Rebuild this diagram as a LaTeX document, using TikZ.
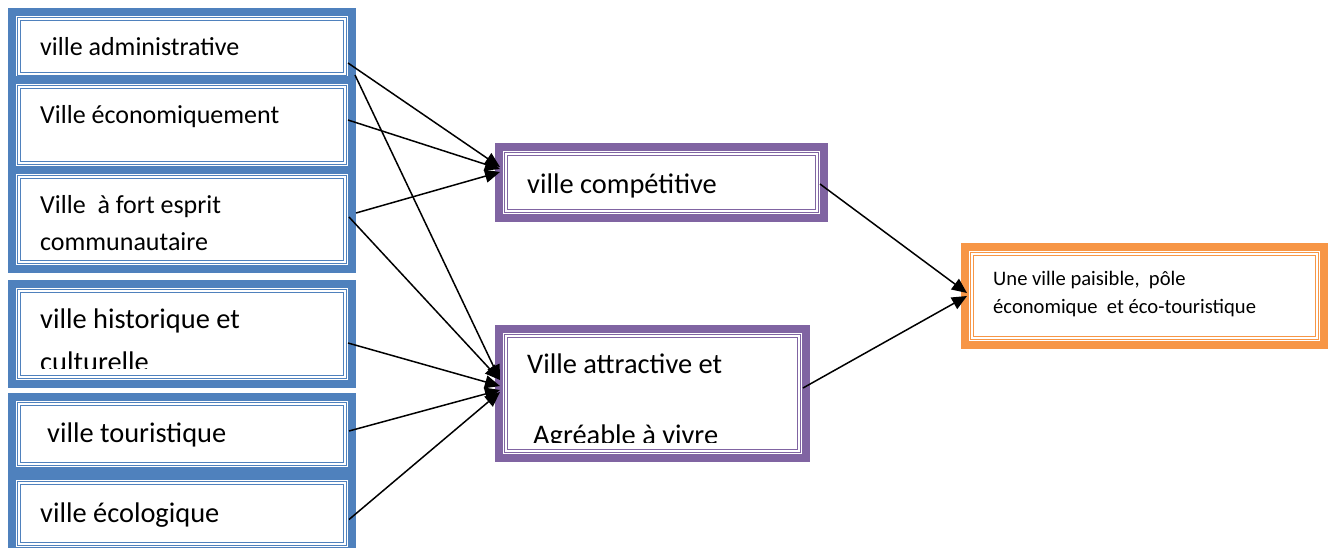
\documentclass[tikz,border=0pt]{standalone}
\usepackage{fontspec}
\setmainfont{Carlito}
\usetikzlibrary{arrows.meta}
\definecolor{cadrebleu}{HTML}{4F81BD}
\definecolor{cadreviolet}{HTML}{8064A2}
\definecolor{cadreorange}{HTML}{F79646}
\def\filet[#1](#2)% Syntax: [colour] (node name)
    { \draw[#1, line width=1pt, double=white, double distance=1.2pt] ([shift={(7,7)}]#2.north west) rectangle ([shift={(-7,-7)}]#2.south east); }

\begin{document}
\begin{tikzpicture}[x=1pt, y=-1pt,
    cadre/.style={draw=#1, line width=8pt, fill=white, inner sep=0pt, outer sep=0pt},
    texte/.style={anchor=base west, inner sep=0pt, font=\fontsize{26}{31}\selectfont},
    grand/.style={font=\fontsize{28.4}{34}\selectfont},
    petit/.style={font=\fontsize{20.6}{25}\selectfont},
    fleche/.style={-{Triangle[length=15pt,width=13pt]}, line width=1.5pt}]
   \useasboundingbox (0,0) rectangle (1333,547);

   % colonne de gauche
   \node[cadre=cadrebleu, minimum width=340pt, minimum height=69pt] (admin) at (182,46.5) {};
   \filet[cadrebleu](admin)
   \node[texte] (admin-t) at (40,55) {ville administrative};

   \node[cadre=cadrebleu, minimum width=340pt, minimum height=90pt] (econ) at (182,125) {};
   \filet[cadrebleu](econ)
   \node[texte] (econ-t) at (40,123) {Ville économiquement};

   \node[cadre=cadrebleu, minimum width=340pt, minimum height=99pt] (esprit) at (182,219.5) {};
   \filet[cadrebleu](esprit)
   \node[texte] (esprit-t1) at (40,213) {Ville\ \ à fort esprit};
   \node[texte] (esprit-t2) at (40,250) {communautaire};

   \node[cadre=cadrebleu, minimum width=340pt, minimum height=100pt] (histo) at (182,334) {};
   \filet[cadrebleu](histo)
   \begin{scope}
     \clip (histo.north west) rectangle ([shift={(0,-16)}]histo.south east);
     \node[texte,grand] (histo-t1) at (40,328) {ville historique et};
     \node[texte,grand] (histo-t2) at (40,371) {culturelle};
   \end{scope}

   \node[cadre=cadrebleu, minimum width=340pt, minimum height=74pt] (touri) at (182,434) {};
   \filet[cadrebleu](touri)
   \node[texte,grand] (touri-t) at (47,442) {ville touristique};

   \node[cadre=cadrebleu, minimum width=340pt, minimum height=75pt] (ecolo) at (182,513.5) {};
   \filet[cadrebleu](ecolo)
   \node[texte,grand] (ecolo-t) at (40,522) {ville écologique};

   % colonne du milieu
   \node[cadre=cadreviolet, minimum width=325pt, minimum height=71pt] (compet) at (661.5,182.5) {};
   \filet[cadreviolet](compet)
   \node[texte,grand] (compet-t) at (527,193) {ville compétitive};

   \node[cadre=cadreviolet, minimum width=307pt, minimum height=129pt] (attract) at (652.5,393.5) {};
   \filet[cadreviolet](attract)
   \begin{scope}
     \clip (attract.north west) rectangle ([shift={(0,-16)}]attract.south east);
     \node[texte,grand] (attract-t1) at (527,373) {Ville attractive et};
     \node[texte,grand] (attract-t2) at (533,444) {Agréable à vivre};
   \end{scope}

   % but final
   \node[cadre=cadreorange, minimum width=359pt, minimum height=98pt] (paisible) at (1144.5,296) {};
   \filet[cadreorange](paisible)
   \node[texte,petit] (paisible-t1) at (993,285) {Une ville paisible,\ \ pôle};
   \node[texte,petit] (paisible-t2) at (993,313) {économique\ \ et éco-touristique};

   % fleches
   \draw[fleche] ([shift={(-4,16.5)}]admin.east) -- ([shift={(1,-15.5)}]compet.west);
   \draw[fleche] ([shift={(3,28.5)}]admin.east) -- ([shift={(1,-13.5)}]attract.west);
   \draw[fleche] ([shift={(-4,-5)}]econ.east) -- ([shift={(1,-13.5)}]compet.west);
   \draw[fleche] ([shift={(4,-6.5)}]esprit.east) -- ([shift={(1,-10.5)}]compet.west);
   \draw[fleche] ([shift={(-3,-2.5)}]esprit.east) -- ([shift={(1,-13.5)}]attract.west);
   \draw[fleche] ([shift={(-4,9)}]histo.east) -- ([shift={(1,-7.5)}]attract.west);
   \draw[fleche] ([shift={(-3,-3)}]touri.east) -- ([shift={(1,-3.5)}]attract.west);
   \draw[fleche] ([shift={(-3,6)}]ecolo.east) -- ([shift={(1,-1.5)}]attract.west);
   \draw[fleche] ([shift={(-4,1.5)}]compet.east) -- ([shift={(2,-3)}]paisible.west);
   \draw[fleche] ([shift={(-3,-5.5)}]attract.east) -- ([shift={(2,0)}]paisible.west);
\end{tikzpicture}
\end{document}
